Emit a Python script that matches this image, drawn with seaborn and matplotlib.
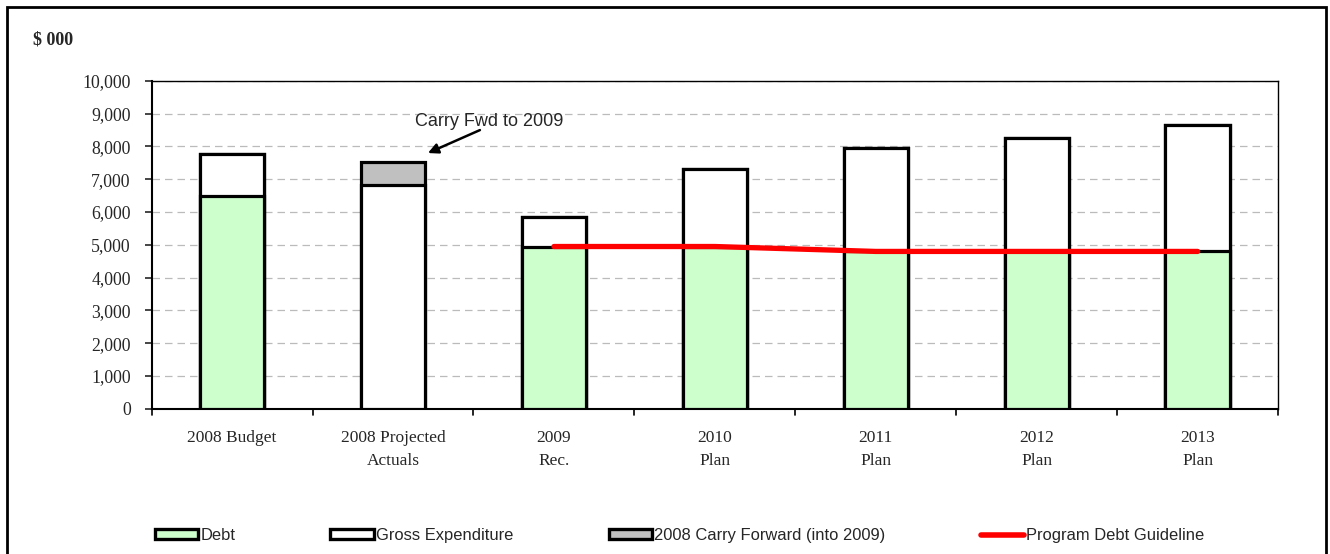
import numpy as np
import pandas as pd
import matplotlib
matplotlib.use("Agg")
import matplotlib.pyplot as plt
import seaborn as sns
from matplotlib.patches import Patch, Rectangle
from matplotlib.lines import Line2D
from matplotlib.ticker import FuncFormatter, MultipleLocator

categories = ["2008 Budget", "2008 Projected\nActuals", "2009\nRec.", "2010\nPlan",
              "2011\nPlan", "2012\nPlan", "2013\nPlan"]
debt = [6500, 0, 4950, 4950, 4800, 4800, 4800]
gross_expenditure = [1280, 6830, 910, 2370, 3150, 3450, 3840]
carry_forward = [0, 700, 0, 0, 0, 0, 0]
guideline = [np.nan, np.nan, 4950, 4950, 4800, 4800, 4800]

sns.set_theme(style="white")
plt.rcParams["font.family"] = ["Liberation Serif", "DejaVu Serif"]

df = pd.DataFrame({
    "cat": categories,
    "debt": debt,
    "gross": gross_expenditure,
    "carry": carry_forward,
    "guide": guideline,
})
df["top_gross"] = df["debt"] + df["gross"]
df["top_all"] = df["top_gross"] + df["carry"]

fig = plt.figure(figsize=(13.3, 5.54), dpi=100)
ax = fig.add_axes([0.114, 0.262, 0.847, 0.592])

ax.yaxis.set_major_locator(MultipleLocator(1000))
ax.grid(axis="y", color="#BBBBBB", linestyle=(0, (6, 4)), linewidth=0.9)
ax.set_axisbelow(True)

bw = 0.4
elw = 2.3
sns.barplot(data=df, x="cat", y="top_all", color="#C0C0C0", saturation=1, width=bw,
            edgecolor="black", linewidth=elw, ax=ax, zorder=2)
sns.barplot(data=df, x="cat", y="top_gross", color="white", saturation=1, width=bw,
            edgecolor="black", linewidth=elw, ax=ax, zorder=3)
sns.barplot(data=df[df["debt"] > 0], x="cat", y="debt", color="#CCFFCC", saturation=1,
            width=bw, edgecolor="black", linewidth=elw, ax=ax, zorder=4,
            order=categories)

gd = df.dropna(subset=["guide"]).copy()
gd["pos"] = [categories.index(c) for c in gd["cat"]]
sns.lineplot(data=gd, x="pos", y="guide", color="red", linewidth=3.8, ax=ax, zorder=6,
             solid_capstyle="round")

ax.set_xlim(-0.5, len(categories) - 0.5)
ax.set_ylim(0, 10000)
ax.set_xlabel("")
ax.set_ylabel("")
ax.yaxis.set_major_formatter(FuncFormatter(lambda v, p: f"{int(v):,}"))
ax.set_xticks(range(len(categories)))
ax.set_xticklabels(categories, fontsize=12.5, linespacing=1.58)
ax.tick_params(axis="x", length=0, pad=15)
ax.tick_params(axis="y", labelsize=12.8, length=5, width=1.2, direction="out", left=True, pad=10)
for x in np.arange(-0.5, len(categories), 1.0):
    ax.plot([x, x], [0, -0.018], transform=ax.get_xaxis_transform(), color="black",
            lw=1.2, clip_on=False)

for s in ["left", "bottom"]:
    ax.spines[s].set_color("black")
    ax.spines[s].set_linewidth(1.5)
for s in ["top", "right"]:
    ax.spines[s].set_color("black")
    ax.spines[s].set_linewidth(1.0)

ax.text(1.137, 8750, "Carry Fwd to 2009", fontsize=13,
        family=["Liberation Sans", "DejaVu Sans"], ha="left", va="center", zorder=7)
ax.annotate("", xy=(1.217, 7800), xytext=(1.54, 8500),
            arrowprops=dict(arrowstyle="-|>", color="black", lw=1.8, mutation_scale=15,
                            shrinkA=0, shrinkB=0),
            zorder=7)
fig.text(0.025, 0.928, "$ 000", fontsize=13, fontweight="bold", ha="left", va="center")

handles = [
    Patch(facecolor="#CCFFCC", edgecolor="black", linewidth=2.4),
    Patch(facecolor="white", edgecolor="black", linewidth=2.4),
    Patch(facecolor="#C0C0C0", edgecolor="black", linewidth=2.4),
    Line2D([0], [0], color="red", linewidth=4, solid_capstyle="round"),
]
labels = ["Debt", "Gross Expenditure", "2008 Carry Forward (into 2009)", "Program Debt Guideline"]
fig.legend(handles, labels, loc="center", bbox_to_anchor=(0.511, 0.033), ncol=4,
           frameon=False, prop={"family": "Liberation Sans", "size": 11.9},
           handlelength=2.65, handleheight=0.55, handletextpad=0.12, columnspacing=5.75)

fig.add_artist(Rectangle((0.005, -0.02), 0.992, 1.007, transform=fig.transFigure,
                         fill=False, edgecolor="black", linewidth=2.0))

fig.savefig("out.png", dpi=100)
